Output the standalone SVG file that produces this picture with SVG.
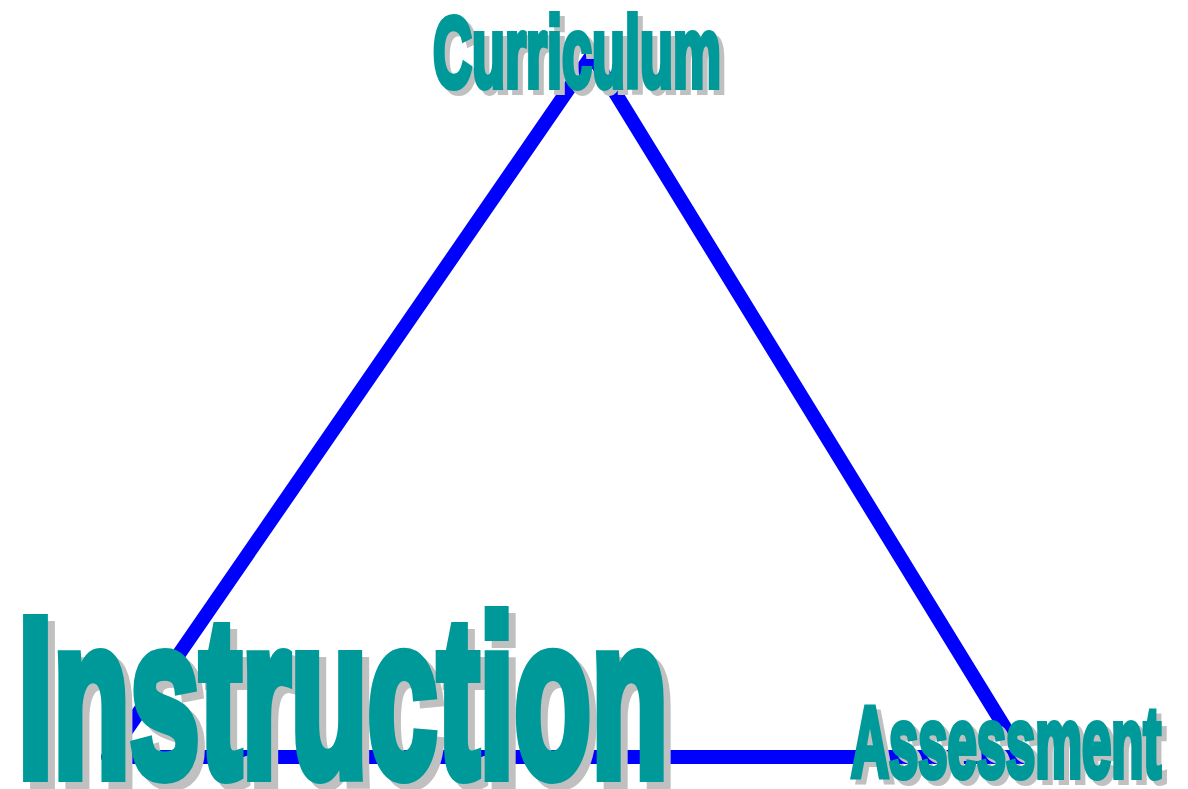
<svg xmlns="http://www.w3.org/2000/svg" width="1188" height="789" viewBox="0 0 1188 789">
  <style>
    .edge { fill: none; stroke: #0000FF; stroke-width: 14; stroke-linejoin: round; }
    .lbl { font-family: "Liberation Sans", Arial, sans-serif; font-weight: bold; }
    .face { fill: #009999; stroke: #009999; }
    .shadow { fill: #C0C0C0; stroke: #C0C0C0; }
    .small { font-size: 100px; stroke-width: 6; }
    .big { font-size: 226px; stroke-width: 12; }
  </style>
  <rect width="1188" height="789" fill="#FFFFFF"/>
  <g id="connectors">
    <polygon class="edge" points="592,55 1023,757 108,757"/>
  </g>
  <g id="node-curriculum" class="lbl small">
    <text class="shadow" x="438" y="92" textLength="288" lengthAdjust="spacingAndGlyphs">Curriculum</text>
    <text class="face" x="433" y="87" textLength="288" lengthAdjust="spacingAndGlyphs">Curriculum</text>
  </g>
  <g id="node-instruction" class="lbl big">
    <text class="shadow" x="25" y="783" textLength="650" lengthAdjust="spacingAndGlyphs">Instruction</text>
    <text class="face" x="18" y="776" textLength="650" lengthAdjust="spacingAndGlyphs">Instruction</text>
  </g>
  <g id="node-assessment" class="lbl small">
    <text class="shadow" x="856" y="782" textLength="310" lengthAdjust="spacingAndGlyphs">Assessment</text>
    <text class="face" x="851" y="777" textLength="310" lengthAdjust="spacingAndGlyphs">Assessment</text>
  </g>
</svg>
